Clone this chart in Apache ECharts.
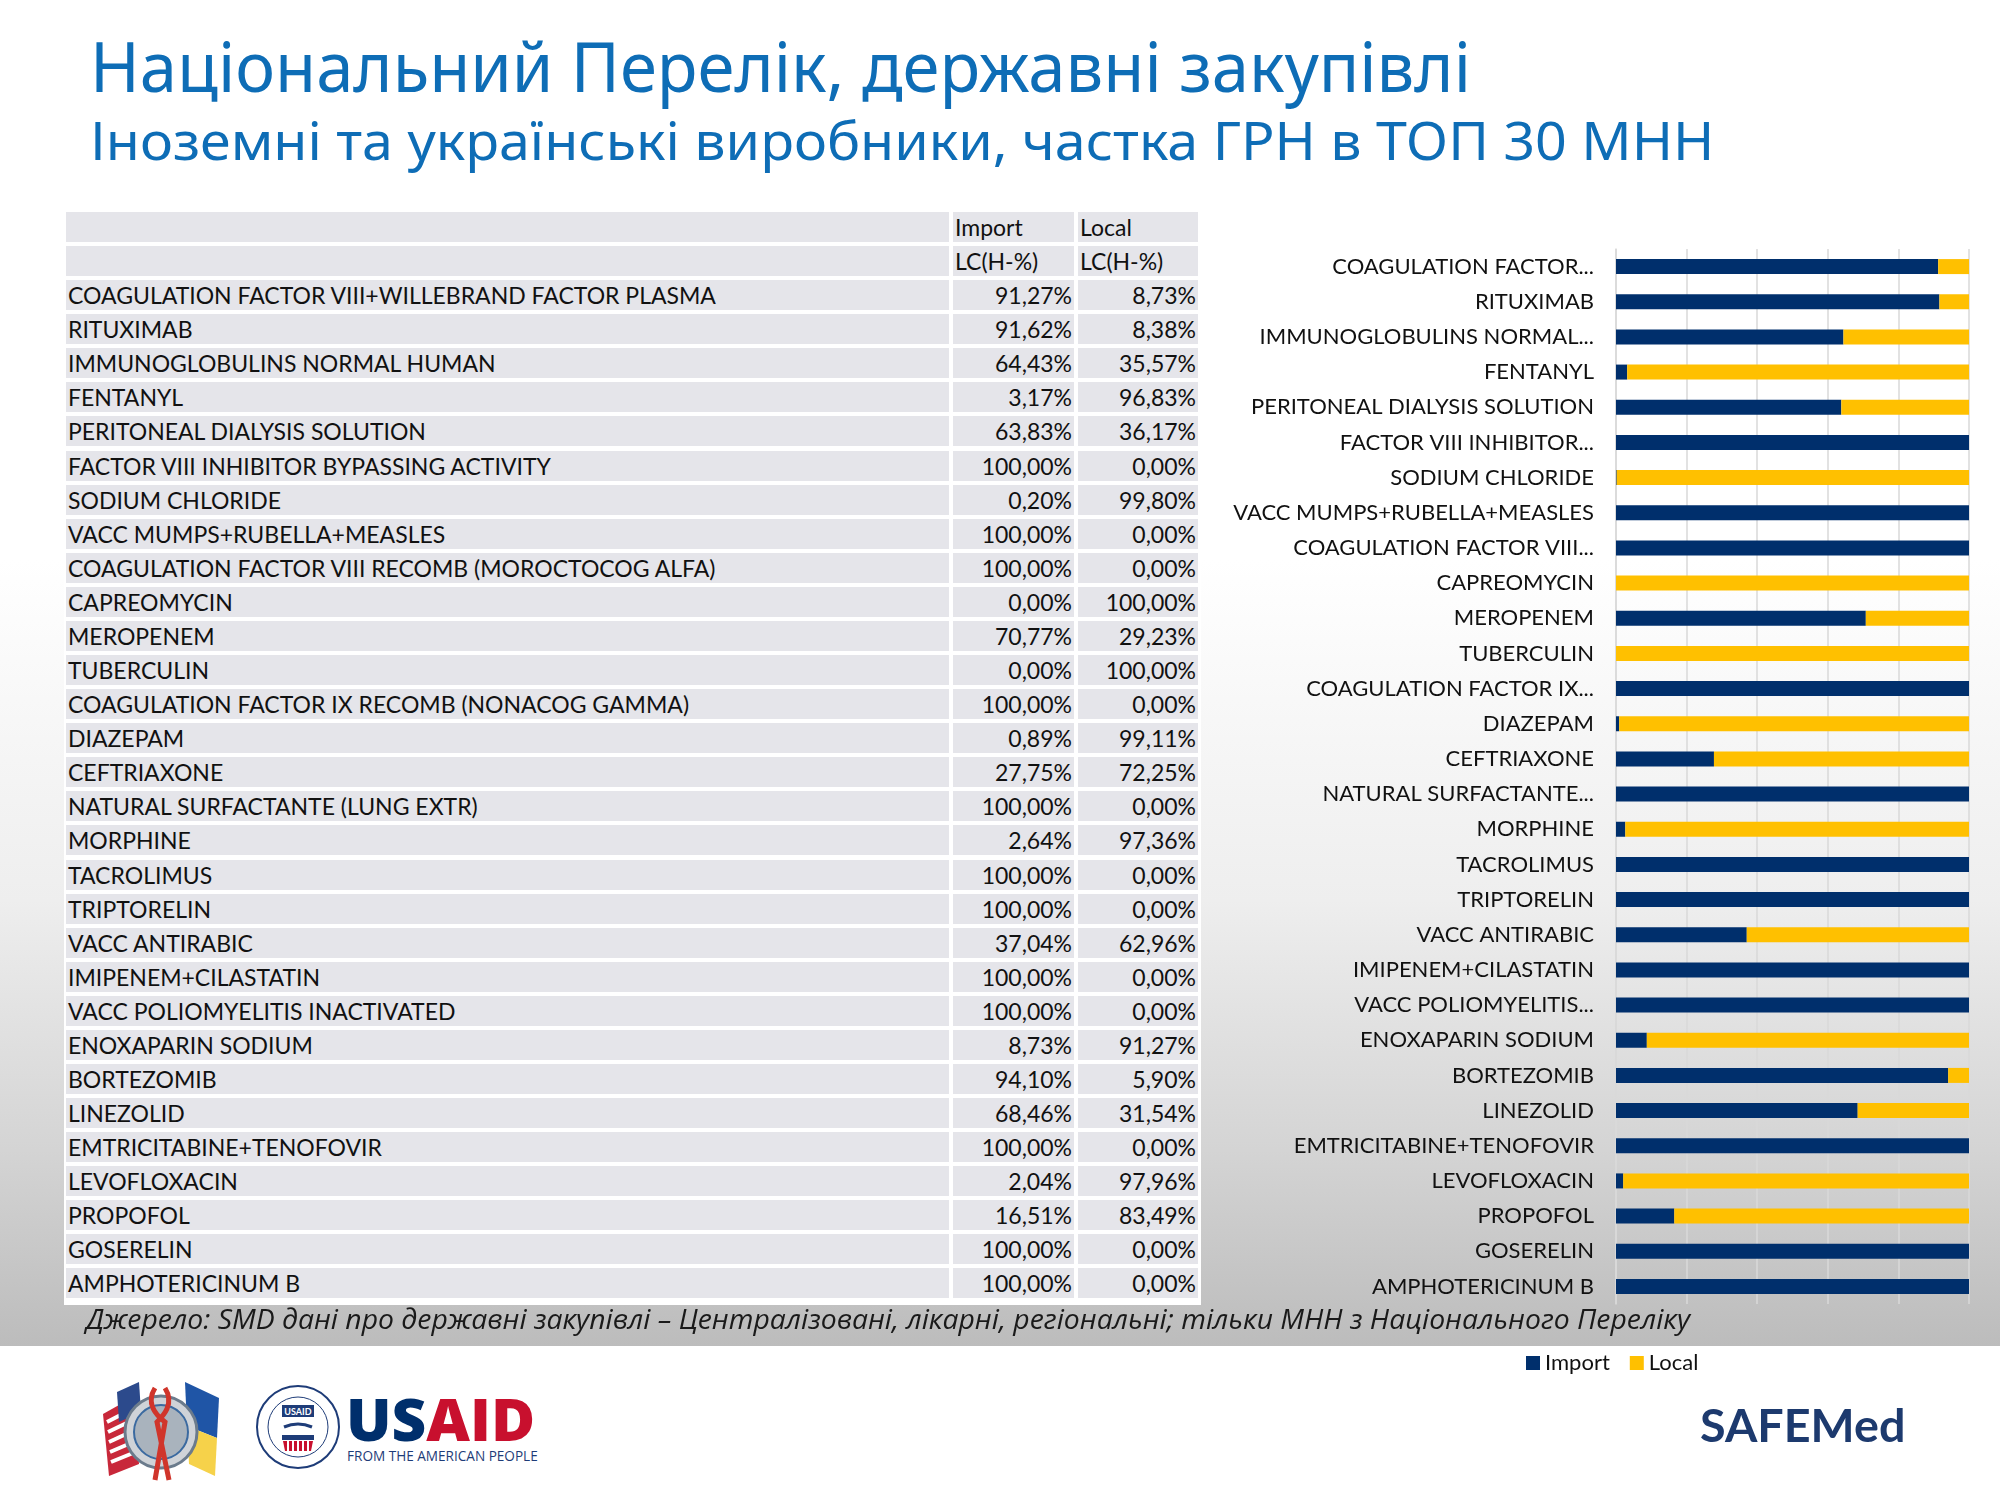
<!DOCTYPE html>
<html lang="uk">
<head>
<meta charset="UTF-8">
<title>Національний Перелік, державні закупівлі</title>
<script src="https://cdn.jsdelivr.net/npm/echarts@6/dist/echarts.min.js"></script>
<style>
  html, body { margin: 0; padding: 0; }
  body { width: 2000px; height: 1500px; position: relative; overflow: hidden; background: #fff; }
  #bg {
    position: absolute; left: 0; top: 0; width: 2000px; height: 1346px;
    background: linear-gradient(to bottom, #fff 0px, #fff 560px, #eeeeee 900px, #d4d4d4 1150px, #bcbcbc 1346px);
  }
  .txt { position: absolute; white-space: nowrap; line-height: 1; transform-origin: 0 0; display: inline-block; }
  .title { font-family: "Noto Sans", "Open Sans", sans-serif; color: #0e6db6; }
  #tableBox { position: absolute; left: 64px; top: 209px; width: 1137px; height: 1096px; background: #fff; }
  .cell {
    position: absolute; background: #e5e5ea; height: 30px; line-height: 31px;
    font-family: Lato, "Noto Sans", sans-serif; font-size: 23px; color: #111;
    white-space: nowrap; overflow: hidden; box-sizing: border-box; padding: 0 2px;
  }
  .num { text-align: right; }
  #chart { position: absolute; left: 1200px; top: 200px; width: 800px; height: 1200px; }
  #source { font-family: "Open Sans", "Noto Sans", sans-serif; font-style: italic; color: #1a1a1a; }
</style>
</head>
<body>
<div id="bg"></div>

<div id="t1" class="txt title">Національний Перелік, державні закупівлі</div>
<div id="t2" class="txt title">Іноземні та українські виробники, частка ГРН в ТОП 30 МНН</div>

<div id="tableBox"></div>
<div id="chart"></div>

<div id="source" class="txt">Джерело: SMD дані про державні закупівлі – Централізовані, лікарні, регіональні; тільки МНН з Національного Переліку</div>

<!-- logos (simplified) -->
<svg style="position:absolute;left:95px;top:1376px" width="135" height="110" viewBox="0 0 135 110">
  <g>
    <path d="M8 38 L40 20 L44 88 L14 100 Z" fill="#c8283a"/>
    <path d="M12 46 L41 31 M13 56 L42 42 M14 66 L42 53 M15 76 L43 64 M16 86 L43 75" stroke="#fff" stroke-width="4"/>
    <path d="M22 16 L44 6 L46 36 L24 46 Z" fill="#2c4a8c"/>
    <path d="M90 6 L124 22 L122 62 L92 50 Z" fill="#1f55a6"/>
    <path d="M92 50 L122 62 L120 100 L94 88 Z" fill="#f6d24a"/>
    <circle cx="66" cy="56" r="36" fill="#cfd3d8" stroke="#6b7b8c" stroke-width="3"/>
    <circle cx="66" cy="56" r="27" fill="#a9b3bd" stroke="#3b6aa0" stroke-width="2"/>
    <path d="M60 12 C50 28 62 40 70 46 L60 104 M70 12 C80 28 68 40 62 46 L74 104" stroke="#d0352b" stroke-width="5" fill="none"/>
  </g>
</svg>
<svg style="position:absolute;left:254px;top:1383px" width="88" height="88" viewBox="0 0 88 88">
  <circle cx="44" cy="44" r="41" fill="#fff" stroke="#1e3c78" stroke-width="2"/>
  <circle cx="44" cy="44" r="30" fill="none" stroke="#1e3c78" stroke-width="1"/>
  <rect x="28" y="22" width="32" height="12" fill="#1e3c78"/>
  <text x="44" y="31.5" font-family="Lato, sans-serif" font-weight="700" font-size="9" fill="#fff" text-anchor="middle">USAID</text>
  <path d="M30 44 Q44 38 58 44" stroke="#1e3c78" stroke-width="3" fill="none"/>
  <rect x="28" y="52" width="32" height="5" fill="#1e3c78"/>
  <path d="M29 58 L59 58 L57 68 L31 68 Z" fill="#c8102e"/>
  <path d="M34 58 L34 68 M39 58 L39 68 M44 58 L44 68 M49 58 L49 68 M54 58 L54 68" stroke="#fff" stroke-width="2"/>
</svg>
<div id="usaid" class="txt" style="font-family:'Open Sans','Noto Sans',sans-serif;font-weight:800;"><span style="color:#002f6c">US</span><span style="color:#c8102e">AID</span></div>
<div id="usaidSub" class="txt" style="font-family:'Open Sans','Noto Sans',sans-serif;color:#1e3c78;">FROM THE AMERICAN PEOPLE</div>
<div id="safemed" class="txt" style="font-family:Lato,'Noto Sans',sans-serif;font-weight:700;color:#1d3a6e;">SAFEMed</div>

<script>
// --- data ---
const drugs = [
  'COAGULATION FACTOR VIII+WILLEBRAND FACTOR PLASMA', 'RITUXIMAB', 'IMMUNOGLOBULINS NORMAL HUMAN',
  'FENTANYL', 'PERITONEAL DIALYSIS SOLUTION', 'FACTOR VIII INHIBITOR BYPASSING ACTIVITY',
  'SODIUM CHLORIDE', 'VACC MUMPS+RUBELLA+MEASLES', 'COAGULATION FACTOR VIII RECOMB (MOROCTOCOG ALFA)',
  'CAPREOMYCIN', 'MEROPENEM', 'TUBERCULIN', 'COAGULATION FACTOR IX RECOMB (NONACOG GAMMA)',
  'DIAZEPAM', 'CEFTRIAXONE', 'NATURAL SURFACTANTE (LUNG EXTR)', 'MORPHINE', 'TACROLIMUS',
  'TRIPTORELIN', 'VACC ANTIRABIC', 'IMIPENEM+CILASTATIN', 'VACC POLIOMYELITIS INACTIVATED',
  'ENOXAPARIN SODIUM', 'BORTEZOMIB', 'LINEZOLID', 'EMTRICITABINE+TENOFOVIR', 'LEVOFLOXACIN',
  'PROPOFOL', 'GOSERELIN', 'AMPHOTERICINUM B'
];
// labels as the chart shows them (long names cut)
const chartLabels = [
  'COAGULATION FACTOR...', 'RITUXIMAB', 'IMMUNOGLOBULINS NORMAL...', 'FENTANYL',
  'PERITONEAL DIALYSIS SOLUTION', 'FACTOR VIII INHIBITOR...', 'SODIUM CHLORIDE',
  'VACC MUMPS+RUBELLA+MEASLES', 'COAGULATION FACTOR VIII...', 'CAPREOMYCIN', 'MEROPENEM',
  'TUBERCULIN', 'COAGULATION FACTOR IX...', 'DIAZEPAM', 'CEFTRIAXONE', 'NATURAL SURFACTANTE...',
  'MORPHINE', 'TACROLIMUS', 'TRIPTORELIN', 'VACC ANTIRABIC', 'IMIPENEM+CILASTATIN',
  'VACC POLIOMYELITIS...', 'ENOXAPARIN SODIUM', 'BORTEZOMIB', 'LINEZOLID',
  'EMTRICITABINE+TENOFOVIR', 'LEVOFLOXACIN', 'PROPOFOL', 'GOSERELIN', 'AMPHOTERICINUM B'
];
const importShare = [91.27, 91.62, 64.43, 3.17, 63.83, 100, 0.20, 100, 100, 0, 70.77, 0, 100, 0.89, 27.75,
  100, 2.64, 100, 100, 37.04, 100, 100, 8.73, 94.10, 68.46, 100, 2.04, 16.51, 100, 100];
const localShare = [8.73, 8.38, 35.57, 96.83, 36.17, 0, 99.80, 0, 0, 100, 29.23, 100, 0, 99.11, 72.25,
  0, 97.36, 0, 0, 62.96, 0, 0, 91.27, 5.90, 31.54, 0, 97.96, 83.49, 0, 0];
const headRow1 = ['', 'Import', 'Local'];
const headRow2 = ['', 'LC(H-%)', 'LC(H-%)'];

const navy = '#002f6c';
const yellow = '#ffc000';

// --- table ---
const pct = v => v.toFixed(2).replace('.', ',') + '%';
const cols = [[66, 949], [953, 1074], [1078, 1198]];
const rowTop = 212, rowStep = 34.08;
const box = document.getElementById('tableBox');

function addRow(i, vals, numeric) {
  vals.forEach((v, c) => {
    const d = document.createElement('div');
    d.className = 'cell' + (numeric && c > 0 ? ' num' : '');
    d.style.left = (cols[c][0] - 64) + 'px';
    d.style.width = (cols[c][1] - cols[c][0]) + 'px';
    d.style.top = (rowTop + i * rowStep - 209) + 'px';
    d.textContent = v;
    box.appendChild(d);
  });
}
addRow(0, headRow1, false);
addRow(1, headRow2, false);
drugs.forEach((name, k) => addRow(k + 2, [name, pct(importShare[k]), pct(localShare[k])], true));

// --- text placement: baseline + width fit ---
function place(id, x, baseline, fs, width) {
  const el = document.getElementById(id);
  el.style.fontSize = fs + 'px';
  el.style.left = x + 'px';
  el.style.top = (baseline - 0.888 * fs) + 'px';
  if (width) {
    const w = el.offsetWidth; // untransformed width
    el.style.transform = 'scaleX(' + (width / w) + ')';
  }
}
function layoutText() {
  place('t1', 90, 92, 69, 1381);
  place('t2', 90, 160, 53, 1624);
  place('source', 86, 1329, 27, 1604);
  place('usaid', 346, 1442, 58, 189);
  place('usaidSub', 347, 1461, 15, 191);
  place('safemed', 1700, 1443, 46, 205);
}

// --- chart ---
const chart = echarts.init(document.getElementById('chart'));
chart.setOption({
  animation: false,
  grid: { left: 416, top: 49, width: 353, height: 1055 },
  legend: {
    data: ['Import', 'Local'], left: 321, top: 1147, icon: 'rect',
    itemWidth: 14, itemHeight: 14, itemGap: 20,
    textStyle: { fontFamily: 'Lato', fontSize: 22, color: '#111' }
  },
  xAxis: {
    type: 'value', min: 0, max: 100, interval: 20,
    axisLabel: { show: false }, axisTick: { show: false }, axisLine: { show: false },
    splitLine: { lineStyle: { color: '#d9d9d9', width: 1.5 } }
  },
  yAxis: {
    type: 'category', data: chartLabels, inverse: true,
    axisTick: { show: false },
    axisLine: { lineStyle: { color: '#d9d9d9', width: 1.5 } },
    axisLabel: { fontFamily: 'Lato', fontSize: 22, color: '#111', margin: 22 }
  },
  series: [
    { name: 'Import', type: 'bar', stack: 'total', data: importShare, barWidth: 15, itemStyle: { color: navy } },
    { name: 'Local', type: 'bar', stack: 'total', data: localShare, barWidth: 15, itemStyle: { color: yellow } }
  ]
});

layoutText();
if (document.fonts && document.fonts.ready) {
  document.fonts.ready.then(layoutText);
}
</script>
</body>
</html>
